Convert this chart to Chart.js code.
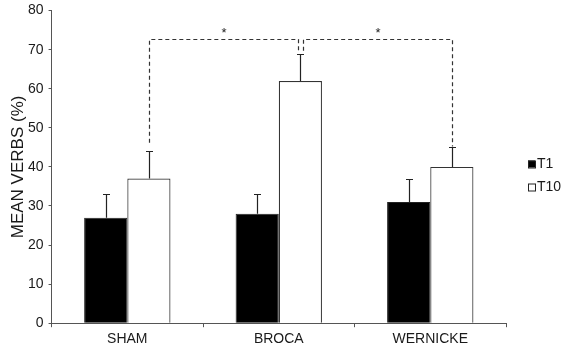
<!DOCTYPE html>
<html>
<head>
<meta charset="utf-8">
<script src="https://cdn.jsdelivr.net/npm/chart.js@4.4.1/dist/chart.umd.min.js"></script>
<style>
  html, body { margin: 0; padding: 0; background: #fff; }
  #wrap { width: 567px; height: 347px; }
</style>
</head>
<body>
<div id="wrap"><canvas id="verbs-chart"></canvas></div>
<script>
// data
const groups = ["SHAM", "BROCA", "WERNICKE"];
const t1Values = [27, 28, 31];
const t1ErrTop = [33, 33, 37];
const t10Values = [37, 62, 40];
const t10ErrTop = [44, 69, 45];
const yTicks = [0, 10, 20, 30, 40, 50, 60, 70, 80];

// significance brackets (T10 bars), values in axis units
const brackets = [
    { from: 0, to: 1, top: 72.7, fromLow: 46.2, toLow: 69.7, fromShift: 0, toShift: -2.5, label: "*" },
    { from: 1, to: 2, top: 72.7, fromLow: 69.7, toLow: 45.2, fromShift: 2.5, toShift: 0, label: "*" },
];

const fontFamily = "'Liberation Sans', Arial, sans-serif";
const textColor = "#1a1a1a";
const axisColor = "#555";

// error bars, upper only, with a small cap
const errorBarPlugin = {
    id: "errorBars",
    afterDatasetsDraw(chart) {
        const c = chart.ctx;
        const y = chart.scales.y;
        const tops = [t1ErrTop, t10ErrTop];
        c.save();
        c.strokeStyle = "#222";
        c.lineWidth = 1.2;
        tops.forEach((errs, di) => {
            chart.getDatasetMeta(di).data.forEach((bar, i) => {
                const x = Math.round(bar.x) + 0.5;
                const yTop = Math.round(y.getPixelForValue(errs[i])) + 0.5;
                c.beginPath();
                c.moveTo(x, bar.y);
                c.lineTo(x, yTop);
                c.moveTo(x - 3.5, yTop);
                c.lineTo(x + 3.5, yTop);
                c.stroke();
            });
        });
        c.restore();
    }
};

// dashed significance brackets
const bracketPlugin = {
    id: "brackets",
    afterDatasetsDraw(chart) {
        const c = chart.ctx;
        const y = chart.scales.y;
        const bars = chart.getDatasetMeta(1).data;
        c.save();
        c.lineWidth = 1.2;
        brackets.forEach(b => {
            const x1 = Math.round(bars[b.from].x + b.fromShift) + 0.5;
            const x2 = Math.round(bars[b.to].x + b.toShift) + 0.5;
            const yt = Math.round(y.getPixelForValue(b.top)) + 0.5;
            c.strokeStyle = "#333";
            c.setLineDash([4, 3]);
            c.beginPath();
            c.moveTo(x1, y.getPixelForValue(b.fromLow));
            c.lineTo(x1, yt);
            c.lineTo(x2, yt);
            c.lineTo(x2, y.getPixelForValue(b.toLow));
            c.stroke();
            c.setLineDash([]);
            c.fillStyle = textColor;
            c.font = "13px " + fontFamily;
            c.textAlign = "center";
            c.textBaseline = "middle";
            c.fillText(b.label, (x1 + x2) / 2, yt - 6);
        });
        c.restore();
    }
};

// legend at the right, drawn from the datasets
const sideLegendPlugin = {
    id: "sideLegend",
    afterDraw(chart) {
        const c = chart.ctx;
        const area = chart.chartArea;
        const midY = (area.top + area.bottom) / 2;
        const x = area.right + 22;
        c.save();
        c.font = "14px " + fontFamily;
        c.textBaseline = "middle";
        c.textAlign = "left";
        chart.data.datasets.forEach((ds, i) => {
            const yy = Math.round(midY - 3 + i * 23);
            c.fillStyle = ds.backgroundColor;
            c.strokeStyle = "#222";
            c.lineWidth = 1;
            c.fillRect(x, yy - 3.5, 7, 7);
            c.strokeRect(x + 0.5, yy - 3.5 + 0.5, 7, 7);
            c.fillStyle = textColor;
            c.fillText(ds.label, x + 9, yy + 0.5);
        });
        c.restore();
    }
};

// setup chart
const dataVerbs = {
    labels: groups,
    datasets: [
        {
            label: "T1",
            data: t1Values,
            backgroundColor: "#000",
            borderColor: "#222",
            borderWidth: 1,
        },
        {
            label: "T10",
            data: t10Values,
            backgroundColor: "#fff",
            borderColor: "#333",
            borderWidth: 1.2,
        },
    ],
};

// config
const configVerbs = {
    type: "bar",
    data: dataVerbs,
    options: {
        responsive: true,
        maintainAspectRatio: false,
        animation: false,
        layout: {
            padding: { top: 0, right: 61, bottom: -5, left: 0 },
        },
        datasets: {
            bar: {
                categoryPercentage: 0.57,
                barPercentage: 1.0,
            },
        },
        plugins: {
            legend: { display: false },
            tooltip: { enabled: false },
        },
        scales: {
            x: {
                border: { display: true, color: axisColor, width: 1 },
                grid: {
                    display: true,
                    offset: true,
                    drawOnChartArea: false,
                    drawTicks: true,
                    tickLength: 4,
                    color: axisColor,
                },
                ticks: {
                    color: textColor,
                    padding: 4,
                    font: { family: fontFamily, size: 14 },
                },
            },
            y: {
                min: 0,
                max: 80,
                afterBuildTicks(axis) {
                    axis.ticks = yTicks.map(v => ({ value: v }));
                },
                border: { display: true, color: axisColor, width: 1 },
                grid: {
                    display: true,
                    drawOnChartArea: false,
                    drawTicks: true,
                    tickLength: 3,
                    color: axisColor,
                },
                ticks: {
                    color: textColor,
                    padding: 5,
                    font: { family: fontFamily, size: 14, lineHeight: 0.8 },
                },
                title: {
                    display: true,
                    text: "MEAN VERBS (%)",
                    color: textColor,
                    padding: { top: 10, bottom: -4 },
                    font: { family: fontFamily, size: 17, lineHeight: 1 },
                },
            },
        },
    },
    plugins: [errorBarPlugin, bracketPlugin, sideLegendPlugin],
};

// render init block
const ctxVerbs = document.getElementById("verbs-chart");
new Chart(ctxVerbs, configVerbs);
</script>
</body>
</html>
